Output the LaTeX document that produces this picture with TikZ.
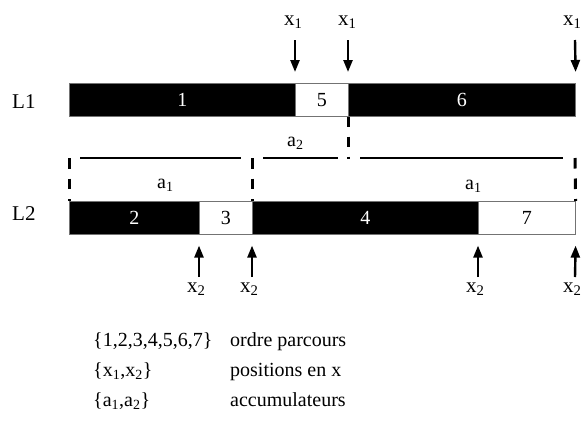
\documentclass[tikz,border=0pt]{standalone}
\usepackage{fontspec}
\setmainfont{Liberation Serif}
\usetikzlibrary{arrows.meta}
\begin{document}
\begin{tikzpicture}[x=1pt,y=-1pt,
  seg/.style={draw=black!55, line width=0.6pt, minimum height=33pt, inner sep=0pt,
    anchor=north west, font=\fontsize{20}{22}\selectfont},
  blk/.style={seg, fill=black, text=white},
  wht/.style={seg, fill=white, text=black},
  lbl/.style={font=\fontsize{20}{22}\selectfont, inner sep=0pt, anchor=base west},
  xl/.style={font=\fontsize{21}{23}\selectfont, inner sep=0pt, anchor=base west},
  arr/.style={line width=2.4pt, -{Triangle[length=12pt,width=9pt]}},
  dsh/.style={line width=3pt, dash pattern=on 10.5pt off 10pt},
  acc/.style={line width=2.4pt}]
\useasboundingbox[fill=white] (0,0) rectangle (585,429);

% L1 bar
\node[blk, minimum width=226pt] (s1) at (69,83) {1};
\node[wht, minimum width=53pt]  (s5) at (295,83) {5};
\node[blk, minimum width=227pt] (s6) at (348,83) {6};
% L2 bar
\node[blk, minimum width=130pt] (s2) at (69,201) {2};
\node[wht, minimum width=53pt]  (s3) at (199,201) {3};
\node[blk, minimum width=226pt] (s4) at (252,201) {4};
\node[wht, minimum width=97pt]  (s7) at (478,201) {7};

% row labels
\node[lbl, font=\fontsize{21}{23}\selectfont] (L1) at (12,108) {L1};
\node[lbl, font=\fontsize{21}{23}\selectfont] (L2) at (12,220) {L2};

% x1 arrows
\coordinate (ta) at (295,40);
\coordinate (tb) at (348,40);
\coordinate (tc) at (575,40);
\node[xl] (xa) at (284,25) {x\textsubscript{1}};
\node[xl] (xb) at (338,25) {x\textsubscript{1}};
\node[xl] (xc) at (563,25) {x\textsubscript{1}};
\draw[arr] (ta) -- ([yshift=11pt]s5.north west);
\draw[arr] (tb) -- ([yshift=11pt]s6.north west);
\draw[arr] (tc) -- ([yshift=11pt]s6.north east);

% x2 arrows
\coordinate (ba) at (199,277);
\coordinate (bb) at (252,277);
\coordinate (bc) at (478,277);
\coordinate (bd) at (575,277);
\node[xl] (ya) at (187,292) {x\textsubscript{2}};
\node[xl] (yb) at (240,292) {x\textsubscript{2}};
\node[xl] (yc) at (466,292) {x\textsubscript{2}};
\node[xl] (yd) at (563,292) {x\textsubscript{2}};
\draw[arr] (ba) -- ([yshift=-11pt]s3.south west);
\draw[arr] (bb) -- ([yshift=-11pt]s4.south west);
\draw[arr] (bc) -- ([yshift=-11pt]s7.south west);
\draw[arr] (bd) -- ([yshift=-11pt]s7.south east);

% accumulator dashed verticals
\coordinate (da) at (69,158);
\coordinate (db) at (252,158);
\coordinate (dc) at (575,158);
\coordinate (dm) at (348,159);
\draw[dsh] (da) -- (s2.north west);
\draw[dsh] (db) -- (s4.north west);
\draw[dsh] (dc) -- (s7.north east);
\draw[dsh, dash pattern=on 10pt off 10pt] (s6.south west) -- (dm);

% accumulator lines
\coordinate (h1) at (80,158);  \coordinate (h2) at (241,158);
\coordinate (h3) at (263,158); \coordinate (h4) at (338,158);
\coordinate (h5) at (360,158); \coordinate (h6) at (563,158);
\draw[acc] (h1) -- (h2);
\draw[acc] (h3) -- (h4);
\draw[acc] (h5) -- (h6);

% accumulator labels
\node[lbl] (a1l) at (157,188) {a\textsubscript{1}};
\node[lbl] (a1r) at (465,189) {a\textsubscript{1}};
\node[lbl] (a2)  at (287,146) {a\textsubscript{2}};

% legend
\node[lbl] (k1) at (93,346) {\{1,2,3,4,5,6,7\}};
\node[lbl] (k2) at (93,376) {\{x\textsubscript{1},x\textsubscript{2}\}};
\node[lbl] (k3) at (93,406) {\{a\textsubscript{1},a\textsubscript{2}\}};
\node[lbl] (v1) at (230,346) {ordre parcours};
\node[lbl] (v2) at (230,376) {positions en x};
\node[lbl] (v3) at (230,406) {accumulateurs};
\end{tikzpicture}
\end{document}
